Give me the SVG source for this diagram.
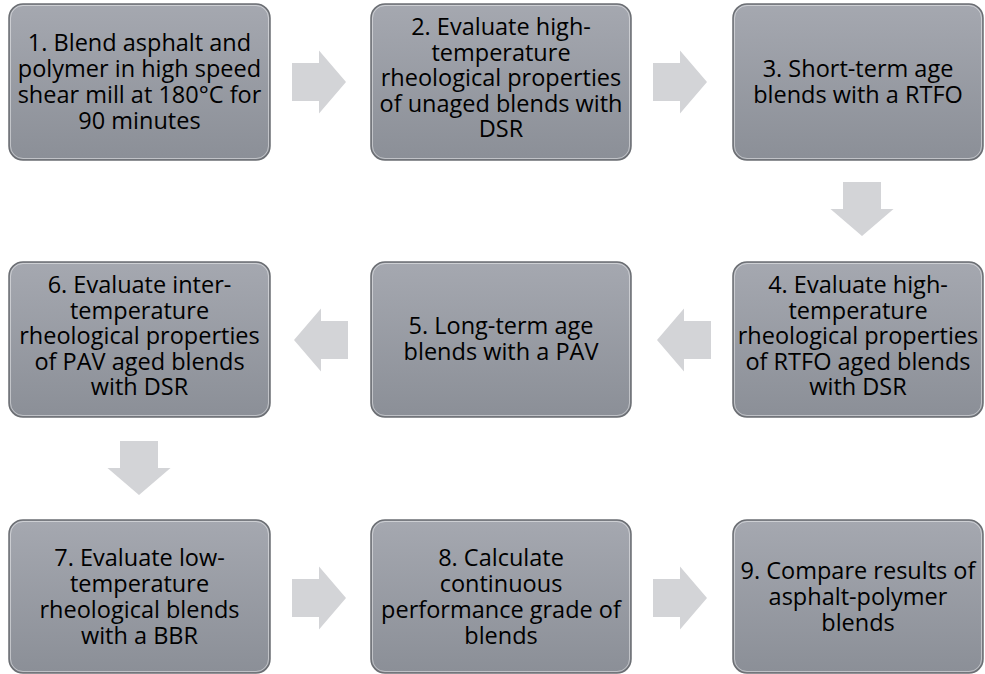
<svg xmlns="http://www.w3.org/2000/svg" xmlns:xlink="http://www.w3.org/1999/xlink" width="985" height="674" viewBox="0 0 985 674">
<style>
.box{fill:url(#bg);stroke:#6b6e73;stroke-width:1.5}
.hl{fill:none;stroke:#ffffff;stroke-opacity:0.45;stroke-width:1}
.t{font-family:"Open Sans","Liberation Sans",sans-serif;font-size:23.5px;fill:#000;text-anchor:middle}
.arr{fill:#d3d4d7}
</style>
<defs>
<linearGradient id="bg" x1="0" y1="0" x2="0" y2="1">
<stop offset="0" stop-color="#a5a8b0"/>
<stop offset="1" stop-color="#8b8f97"/>
</linearGradient>
<path id="ra" d="M0,-19 H27 V-31.5 L54,0 L27,31.5 V19 H0 Z"/>
</defs>
<rect width="985" height="674" fill="#ffffff"/>
<g id="connectors">
<use xlink:href="#ra" class="arr" transform="translate(292,82)"/>
<use xlink:href="#ra" class="arr" transform="translate(653,82)"/>
<use xlink:href="#ra" class="arr" transform="translate(862,182) rotate(90)"/>
<use xlink:href="#ra" class="arr" transform="translate(711,340) rotate(180)"/>
<use xlink:href="#ra" class="arr" transform="translate(348,340) rotate(180)"/>
<use xlink:href="#ra" class="arr" transform="translate(139,441) rotate(90)"/>
<use xlink:href="#ra" class="arr" transform="translate(292,598)"/>
<use xlink:href="#ra" class="arr" transform="translate(653,598)"/>
</g>
<g id="n1">
<rect class="box" x="9" y="4" width="261" height="156" rx="14"/>
<rect class="hl" x="10.5" y="5.5" width="258" height="153" rx="12.5"/>
<text class="t" x="139.5"><tspan x="139.5" y="51">1. Blend asphalt and</tspan><tspan x="139.5" y="77">polymer in high speed</tspan><tspan x="139.5" y="103">shear mill at 180°C for</tspan><tspan x="139.5" y="129">90 minutes</tspan></text>
</g>
<g id="n2">
<rect class="box" x="371" y="4" width="260" height="156" rx="14"/>
<rect class="hl" x="372.5" y="5.5" width="257" height="153" rx="12.5"/>
<text class="t"><tspan x="501" y="35">2. Evaluate high-</tspan><tspan x="501" y="60.5">temperature</tspan><tspan x="501" y="86">rheological properties</tspan><tspan x="501" y="111.5">of unaged blends with</tspan><tspan x="501" y="137">DSR</tspan></text>
</g>
<g id="n3">
<rect class="box" x="733" y="4" width="250" height="156" rx="14"/>
<rect class="hl" x="734.5" y="5.5" width="247" height="153" rx="12.5"/>
<text class="t"><tspan x="858" y="77">3. Short-term age</tspan><tspan x="858" y="103">blends with a RTFO</tspan></text>
</g>
<g id="n4">
<rect class="box" x="733" y="262" width="250" height="155" rx="14"/>
<rect class="hl" x="734.5" y="263.5" width="247" height="152" rx="12.5"/>
<text class="t"><tspan x="858" y="293">4. Evaluate high-</tspan><tspan x="858" y="318.5">temperature</tspan><tspan x="858" y="344">rheological properties</tspan><tspan x="858" y="369.5">of RTFO aged blends</tspan><tspan x="858" y="395">with DSR</tspan></text>
</g>
<g id="n5">
<rect class="box" x="371" y="262" width="260" height="155" rx="14"/>
<rect class="hl" x="372.5" y="263.5" width="257" height="152" rx="12.5"/>
<text class="t"><tspan x="501" y="334">5. Long-term age</tspan><tspan x="501" y="360">blends with a PAV</tspan></text>
</g>
<g id="n6">
<rect class="box" x="9" y="262" width="261" height="155" rx="14"/>
<rect class="hl" x="10.5" y="263.5" width="258" height="152" rx="12.5"/>
<text class="t"><tspan x="139.5" y="293">6. Evaluate inter-</tspan><tspan x="139.5" y="318.5">temperature</tspan><tspan x="139.5" y="344">rheological properties</tspan><tspan x="139.5" y="369.5">of PAV aged blends</tspan><tspan x="139.5" y="395">with DSR</tspan></text>
</g>
<g id="n7">
<rect class="box" x="9" y="520" width="261" height="153" rx="14"/>
<rect class="hl" x="10.5" y="521.5" width="258" height="150" rx="12.5"/>
<text class="t"><tspan x="139.5" y="566">7. Evaluate low-</tspan><tspan x="139.5" y="592">temperature</tspan><tspan x="139.5" y="618">rheological blends</tspan><tspan x="139.5" y="644">with a BBR</tspan></text>
</g>
<g id="n8">
<rect class="box" x="371" y="520" width="260" height="153" rx="14"/>
<rect class="hl" x="372.5" y="521.5" width="257" height="150" rx="12.5"/>
<text class="t"><tspan x="501" y="566">8. Calculate</tspan><tspan x="501" y="592">continuous</tspan><tspan x="501" y="618">performance grade of</tspan><tspan x="501" y="644">blends</tspan></text>
</g>
<g id="n9">
<rect class="box" x="733" y="520" width="250" height="153" rx="14"/>
<rect class="hl" x="734.5" y="521.5" width="247" height="150" rx="12.5"/>
<text class="t"><tspan x="858" y="579">9. Compare results of</tspan><tspan x="858" y="605">asphalt-polymer</tspan><tspan x="858" y="631">blends</tspan></text>
</g>
</svg>
